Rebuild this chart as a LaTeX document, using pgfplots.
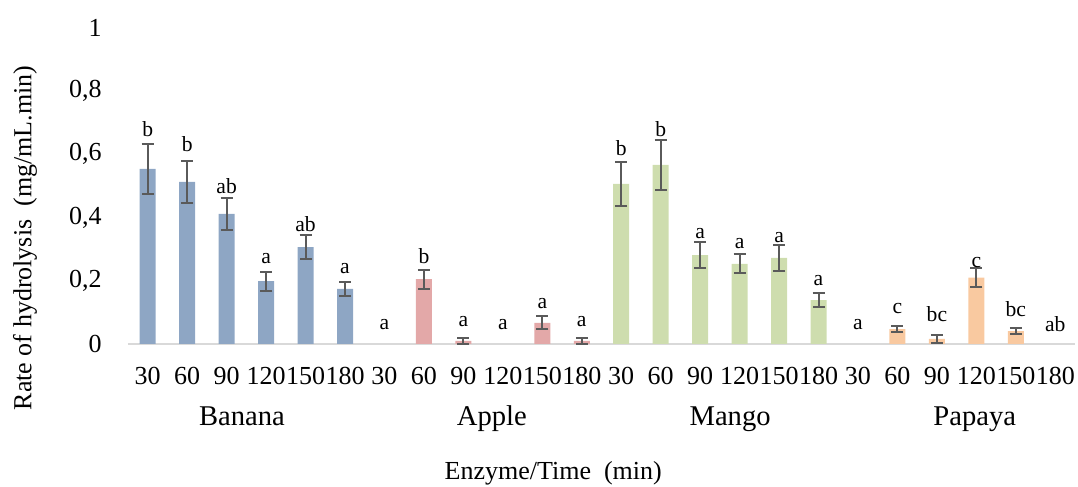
\documentclass[border=0pt]{standalone}
\usepackage{fontspec}
\setmainfont{Liberation Serif}
\usepackage{pgfplots}
\pgfplotsset{compat=1.18}
\definecolor{cBan}{HTML}{8EA6C4}
\definecolor{cApp}{HTML}{E3A8A8}
\definecolor{cMan}{HTML}{CEDDAE}
\definecolor{cPap}{HTML}{F9C9A0}
\definecolor{cErr}{HTML}{5A5A5A}
\definecolor{cAx}{HTML}{D9D9D9}
\newcommand{\mainfs}{\fontsize{13}{15}\selectfont}
\newcommand{\grpfs}{\fontsize{14.3}{16}\selectfont}
\newcommand{\letfs}{\fontsize{10.8}{12}\selectfont}
\begin{document}
\begin{tikzpicture}
\useasboundingbox (-64pt,-71.5pt) rectangle (475pt,172pt);
\begin{axis}[
  at={(0,0)}, anchor=south west,
  width=473.5pt, height=158.25pt, scale only axis,
  xmin=-0.5, xmax=23.5, ymin=0, ymax=1,
  clip=false,
  axis x line*=bottom, axis y line*=left,
  y axis line style={draw=none},
  x axis line style={draw=cAx, line width=0.8pt},
  major tick length=0pt, tick style={draw=none},
  xtick={0,...,23},
  xticklabels={30,60,90,120,150,180,30,60,90,120,150,180,30,60,90,120,150,180,30,60,90,120,150,180},
  ytick={0,0.2,0.4,0.6,0.8,1},
  yticklabels={0,{0,2},{0,4},{0,6},{0,8},1},
  ticklabel style={font=\mainfs},
  xticklabel style={inner sep=0pt, anchor=north, yshift=-11.5pt},
  yticklabel style={inner sep=0pt, anchor=east, xshift=-13pt},
  ylabel={Rate of hydrolysis\ \ (mg/mL.min)},
  ylabel style={at={(axis description cs:-0.1088,0.335)}, anchor=center, font=\mainfs},
  xlabel={Enzyme/Time\ \ (min)},
  xlabel style={at={(axis description cs:0.449,0)}, anchor=base, yshift=-67.5pt, font=\mainfs},
]
% Banana
\addplot[ybar, bar width=8pt, bar shift=0pt, fill=cBan, draw=none,
  error bars/.cd, y dir=both, y explicit,
  error bar style={color=cErr, line width=1pt},
  error mark options={rotate=90, mark size=3pt, color=cErr, line width=1pt}]
  table[x=x, y=y, y error=e] {
x y e
0 0.553 0.080
1 0.512 0.066
2 0.411 0.050
3 0.199 0.030
4 0.306 0.038
5 0.174 0.022
};
% Apple
\addplot[ybar, bar width=8pt, bar shift=0pt, fill=cApp, draw=none,
  error bars/.cd, y dir=both, y explicit,
  error bar style={color=cErr, line width=1pt},
  error mark options={rotate=90, mark size=3pt, color=cErr, line width=1pt}]
  table[x=x, y=y, y error=e] {
x y e
7 0.205 0.030
8 0.010 0.010
10 0.067 0.020
11 0.010 0.010
};
% Mango
\addplot[ybar, bar width=8pt, bar shift=0pt, fill=cMan, draw=none,
  error bars/.cd, y dir=both, y explicit,
  error bar style={color=cErr, line width=1pt},
  error mark options={rotate=90, mark size=3pt, color=cErr, line width=1pt}]
  table[x=x, y=y, y error=e] {
x y e
12 0.506 0.070
13 0.566 0.080
14 0.281 0.040
15 0.253 0.030
16 0.272 0.040
17 0.139 0.023
};
% Papaya
\addplot[ybar, bar width=8pt, bar shift=0pt, fill=cPap, draw=none,
  error bars/.cd, y dir=both, y explicit,
  error bar style={color=cErr, line width=1pt},
  error mark options={rotate=90, mark size=3pt, color=cErr, line width=1pt}]
  table[x=x, y=y, y error=e] {
x y e
19 0.047 0.010
20 0.016 0.012
21 0.210 0.030
22 0.041 0.009
};
% significance letters
\addplot[draw=none, mark=none, nodes near coords, point meta=explicit symbolic,
  every node near coord/.append style={font=\letfs, anchor=base, inner sep=0pt, yshift=0pt, text=black}]
  table[x=x, y=y, meta=l] {
x y l
0 0.655 b
1 0.608 b
2 0.474 ab
3 0.253 a
4 0.356 ab
5 0.223 a
6 0.047 a
7 0.255 b
8 0.055 a
9 0.046 a
10 0.113 a
11 0.055 a
12 0.597 b
13 0.657 b
14 0.334 a
15 0.302 a
16 0.321 a
17 0.186 a
18 0.046 a
19 0.097 c
20 0.070 bc
21 0.242 c
22 0.088 bc
23 0.041 ab
};
\node[font=\grpfs, anchor=base, yshift=-41pt] at (axis cs:2.39,0) {Banana};
\node[font=\grpfs, anchor=base, yshift=-41pt] at (axis cs:8.72,0) {Apple};
\node[font=\grpfs, anchor=base, yshift=-41pt] at (axis cs:14.76,0) {Mango};
\node[font=\grpfs, anchor=base, yshift=-41pt] at (axis cs:20.96,0) {Papaya};
\end{axis}
\end{tikzpicture}
\end{document}
